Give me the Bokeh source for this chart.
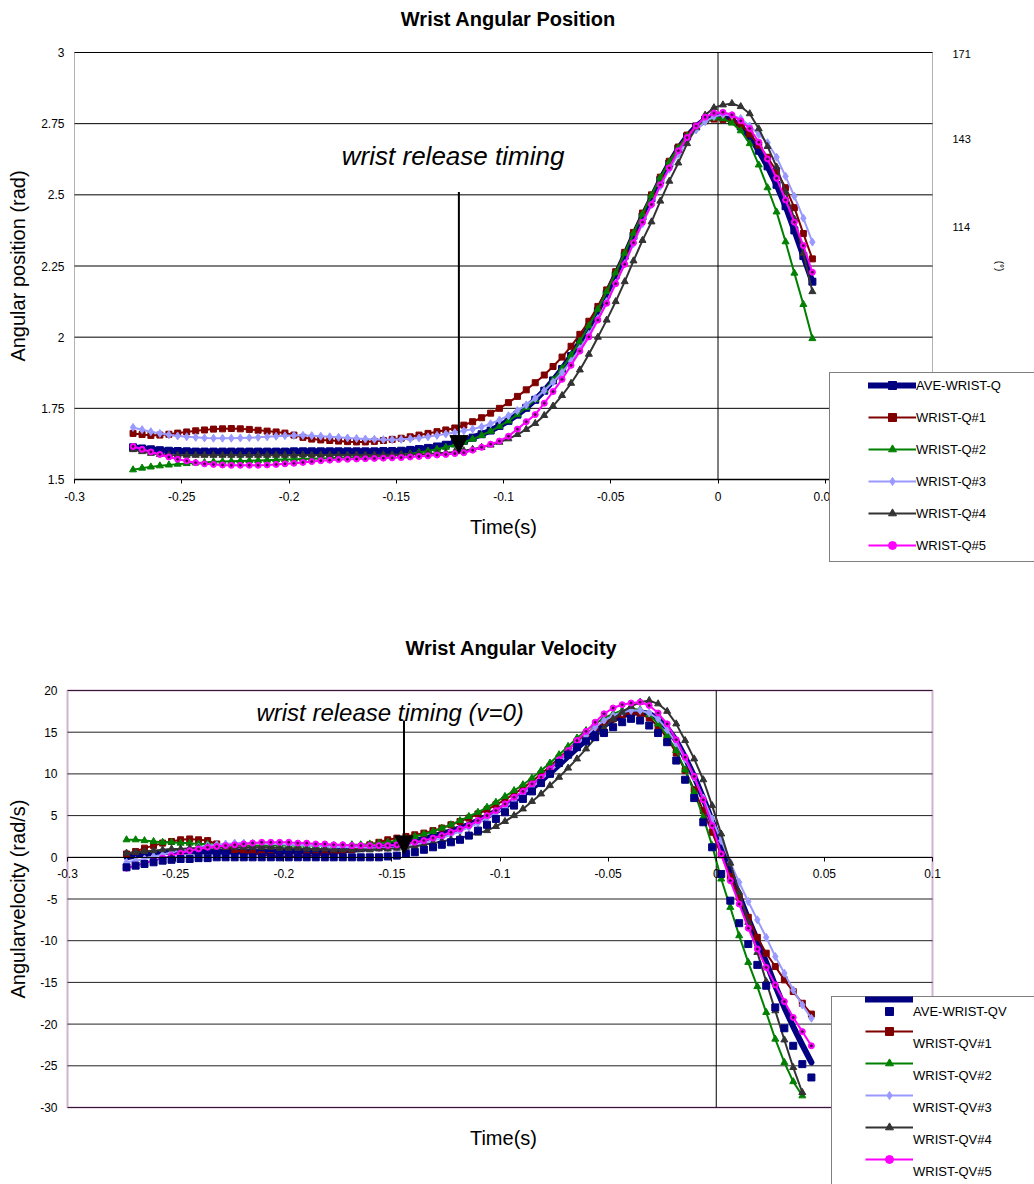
import numpy as np
from bokeh.plotting import figure
from bokeh.layouts import column
from bokeh.models import (Range1d, LinearAxis, FixedTicker, CustomJSTickFormatter,
                          Label, Legend, LegendItem, Arrow, NormalHead, BoxAnnotation)
from bokeh.embed import file_html
from bokeh.resources import INLINE

FONT = "Liberation Sans"

# ---------------- data ----------------
time_s = [-0.2727, -0.2685, -0.2644, -0.2602, -0.2560, -0.2519, -0.2477, -0.2435, -0.2394, -0.2352,
          -0.2310, -0.2269, -0.2227, -0.2185, -0.2144, -0.2102, -0.2060, -0.2019, -0.1977, -0.1935,
          -0.1894, -0.1852, -0.1810, -0.1769, -0.1727, -0.1685, -0.1644, -0.1602, -0.1560, -0.1519,
          -0.1477, -0.1435, -0.1394, -0.1352, -0.1310, -0.1269, -0.1227, -0.1185, -0.1144, -0.1102,
          -0.1060, -0.1019, -0.0977, -0.0935, -0.0894, -0.0852, -0.0810, -0.0769, -0.0727, -0.0685,
          -0.0644, -0.0602, -0.0560, -0.0519, -0.0477, -0.0435, -0.0394, -0.0352, -0.0310, -0.0269,
          -0.0227, -0.0185, -0.0144, -0.0102, -0.0060, -0.0019, 0.0023, 0.0065, 0.0106, 0.0148,
          0.0190, 0.0231, 0.0273, 0.0315, 0.0356, 0.0398, 0.0440]

# angular position (rad)
q_ave = [1.613, 1.609, 1.606, 1.603, 1.601, 1.600, 1.599, 1.598, 1.598, 1.598,
         1.598, 1.598, 1.598, 1.598, 1.598, 1.598, 1.598, 1.598, 1.599, 1.599,
         1.599, 1.599, 1.599, 1.599, 1.599, 1.599, 1.599, 1.599, 1.600, 1.600,
         1.601, 1.604, 1.607, 1.611, 1.616, 1.622, 1.628, 1.636, 1.647, 1.659,
         1.672, 1.688, 1.706, 1.728, 1.752, 1.780, 1.812, 1.848, 1.888, 1.934,
         1.982, 2.034, 2.092, 2.152, 2.218, 2.286, 2.356, 2.424, 2.488, 2.552,
         2.610, 2.662, 2.705, 2.740, 2.764, 2.775, 2.774, 2.762, 2.740, 2.705,
         2.655, 2.600, 2.535, 2.460, 2.375, 2.285, 2.195]
q_1 = [1.662, 1.658, 1.655, 1.656, 1.659, 1.663, 1.667, 1.671, 1.674, 1.677,
       1.678, 1.679, 1.678, 1.676, 1.673, 1.670, 1.667, 1.663, 1.656, 1.648,
       1.642, 1.639, 1.637, 1.635, 1.633, 1.632, 1.632, 1.634, 1.637, 1.641,
       1.645, 1.650, 1.656, 1.662, 1.668, 1.674, 1.681, 1.691, 1.703, 1.717,
       1.733, 1.750, 1.770, 1.792, 1.815, 1.840, 1.867, 1.897, 1.930, 1.968,
       2.010, 2.056, 2.108, 2.166, 2.230, 2.298, 2.368, 2.436, 2.500, 2.562,
       2.618, 2.668, 2.710, 2.741, 2.760, 2.766, 2.765, 2.758, 2.746, 2.714,
       2.675, 2.632, 2.583, 2.525, 2.455, 2.364, 2.275]
q_2 = [1.534, 1.540, 1.544, 1.548, 1.551, 1.554, 1.556, 1.558, 1.560, 1.562,
       1.563, 1.564, 1.565, 1.566, 1.567, 1.568, 1.569, 1.570, 1.571, 1.572,
       1.573, 1.574, 1.575, 1.576, 1.577, 1.578, 1.579, 1.580, 1.582, 1.584,
       1.587, 1.590, 1.595, 1.600, 1.606, 1.613, 1.621, 1.631, 1.642, 1.655,
       1.670, 1.687, 1.706, 1.728, 1.753, 1.781, 1.813, 1.849, 1.890, 1.936,
       1.986, 2.040, 2.098, 2.160, 2.226, 2.295, 2.365, 2.432, 2.498, 2.560,
       2.615, 2.665, 2.706, 2.738, 2.760, 2.770, 2.768, 2.752, 2.725, 2.680,
       2.605, 2.525, 2.440, 2.335, 2.225, 2.115, 1.995]
q_3 = [1.683, 1.675, 1.668, 1.662, 1.657, 1.653, 1.650, 1.648, 1.646, 1.645,
       1.645, 1.645, 1.646, 1.647, 1.648, 1.650, 1.652, 1.654, 1.655, 1.655,
       1.654, 1.652, 1.650, 1.648, 1.646, 1.644, 1.642, 1.641, 1.640, 1.640,
       1.641, 1.643, 1.646, 1.650, 1.655, 1.660, 1.665, 1.671, 1.677, 1.685,
       1.696, 1.709, 1.724, 1.742, 1.762, 1.785, 1.812, 1.842, 1.876, 1.915,
       1.960, 2.010, 2.065, 2.125, 2.190, 2.258, 2.328, 2.398, 2.465, 2.530,
       2.590, 2.643, 2.690, 2.728, 2.757, 2.775, 2.782, 2.779, 2.768, 2.742,
       2.712, 2.683, 2.632, 2.565, 2.495, 2.418, 2.334]
q_4 = [1.605, 1.598, 1.592, 1.588, 1.586, 1.585, 1.585, 1.585, 1.585, 1.585,
       1.585, 1.585, 1.585, 1.585, 1.585, 1.585, 1.585, 1.585, 1.585, 1.586,
       1.586, 1.586, 1.586, 1.586, 1.586, 1.586, 1.586, 1.586, 1.587, 1.587,
       1.587, 1.588, 1.589, 1.590, 1.592, 1.594, 1.597, 1.601, 1.606, 1.613,
       1.621, 1.631, 1.643, 1.658, 1.676, 1.697, 1.725, 1.758, 1.795, 1.838,
       1.885, 1.940, 2.000, 2.060, 2.125, 2.195, 2.268, 2.340, 2.405, 2.478,
       2.548, 2.612, 2.680, 2.738, 2.780, 2.806, 2.816, 2.821, 2.810, 2.785,
       2.732, 2.670, 2.598, 2.510, 2.415, 2.295, 2.160]
q_5 = [1.616, 1.606, 1.597, 1.588, 1.579, 1.571, 1.565, 1.559, 1.555, 1.553,
       1.551, 1.550, 1.550, 1.550, 1.550, 1.551, 1.553, 1.555, 1.557, 1.560,
       1.563, 1.566, 1.568, 1.570, 1.571, 1.572, 1.573, 1.574, 1.575, 1.576,
       1.577, 1.579, 1.581, 1.583, 1.586, 1.588, 1.591, 1.594, 1.603, 1.613,
       1.624, 1.635, 1.652, 1.677, 1.703, 1.728, 1.768, 1.809, 1.852, 1.901,
       1.951, 2.001, 2.060, 2.119, 2.188, 2.256, 2.332, 2.404, 2.466, 2.535,
       2.595, 2.655, 2.701, 2.742, 2.773, 2.787, 2.790, 2.781, 2.760, 2.733,
       2.685, 2.626, 2.558, 2.482, 2.404, 2.322, 2.228]

NAN = float("nan")
# angular velocity (rad/s)
qv_ave_line = [0.0, 0.2, 0.4, 0.5, 0.6, 0.7, 0.7, 0.7, 0.7, 0.7,
               0.7, 0.7, 0.7, 0.7, 0.7, 0.7, 0.7, 0.7, 0.7, 0.7,
               0.7, 0.7, 0.7, 0.7, 0.8, 0.9, 1.0, 1.1, 1.2, 1.4,
               1.6, 1.8, 2.0, 2.2, 2.5, 2.8, 3.1, 3.5, 3.9, 4.4,
               4.9, 5.5, 6.1, 6.8, 7.5, 8.3, 9.2, 10.1, 11.1, 12.1,
               13.1, 14.1, 15.0, 15.8, 16.5, 17.0, 17.3, 17.4, 17.2, 16.6,
               15.5, 14.0, 12.0, 9.7, 7.1, 4.3, 1.3, -1.7, -4.6, -7.4,
               -10.0, -12.6, -15.4, -18.0, -20.3, -22.5, -24.6]
qv_ave_pts = [-1.2, -1.0, -0.8, -0.6, -0.4, -0.3, -0.2, -0.2, -0.1, -0.1,
              0.0, 0.0, 0.0, 0.0, 0.0, 0.0, 0.0, 0.0, 0.0, 0.0,
              0.0, 0.0, 0.0, 0.0, 0.0, 0.0, 0.0, 0.0, 0.0, 0.1,
              0.2, 0.4, 0.6, 0.9, 1.2, 1.5, 1.8, 2.1, 2.6, 3.2,
              3.9, 4.6, 5.4, 6.2, 7.0, 7.9, 8.9, 10.0, 11.3, 12.3,
              13.2, 13.9, 14.4, 14.9, 15.6, 16.2, 16.6, 16.4, 15.8, 14.9,
              13.8, 11.6, 9.3, 7.1, 4.2, 1.2, -2.0, -5.2, -7.9, -10.4,
              -12.9, -15.4, -18.0, -20.5, -22.6, -24.8, -26.4]
qv_1 = [0.4, 0.7, 1.1, 1.4, 1.7, 1.9, 2.1, 2.2, 2.1, 2.0,
        1.6, 1.3, 0.9, 0.6, 0.5, 0.3, 0.2, 0.1, 0.1, 0.1,
        0.2, 0.2, 0.3, 0.4, 0.6, 0.9, 1.2, 1.5, 1.8, 2.1,
        2.3, 2.5, 2.7, 2.9, 3.2, 3.5, 3.9, 4.3, 4.7, 5.2,
        5.7, 6.3, 6.9, 7.6, 8.3, 9.1, 10.0, 10.9, 11.9, 12.9,
        13.9, 14.8, 15.6, 16.2, 16.6, 17.1, 17.3, 17.2, 16.7, 15.7,
        14.3, 12.5, 10.4, 8.1, 5.6, 3.0, 0.3, -2.3, -4.8, -7.2,
        -9.6, -11.5, -13.1, -14.7, -16.1, -17.5, -18.8]
qv_2 = [2.1, 2.1, 2.0, 1.9, 1.8, 1.8, 1.7, 1.7, 1.6, 1.6,
        1.5, 1.5, 1.5, 1.4, 1.4, 1.4, 1.4, 1.4, 1.4, 1.4,
        1.4, 1.4, 1.4, 1.4, 1.4, 1.5, 1.5, 1.6, 1.7, 1.8,
        2.0, 2.2, 2.5, 2.8, 3.1, 3.5, 3.9, 4.4, 4.9, 5.4,
        6.0, 6.6, 7.3, 8.0, 8.7, 9.5, 10.4, 11.3, 12.3, 13.3,
        14.3, 15.2, 16.0, 16.7, 17.2, 17.6, 17.8, 17.7, 17.1, 16.0,
        14.6, 12.8, 10.5, 7.8, 4.8, 1.4, -2.6, -6.0, -9.4, -12.6,
        -15.5, -18.6, -21.8, -24.6, -26.9, -28.6, NAN]
qv_3 = [-0.6, -0.4, -0.2, 0.1, 0.3, 0.6, 0.8, 1.0, 1.2, 1.4,
        1.5, 1.6, 1.7, 1.7, 1.7, 1.7, 1.6, 1.6, 1.5, 1.5,
        1.4, 1.4, 1.3, 1.3, 1.2, 1.2, 1.2, 1.1, 1.1, 1.1,
        1.2, 1.3, 1.5, 1.7, 2.0, 2.3, 2.7, 3.1, 3.6, 4.1,
        4.7, 5.3, 6.0, 6.8, 7.6, 8.4, 9.3, 10.3, 11.3, 12.4,
        13.5, 14.6, 15.6, 16.4, 17.0, 17.4, 17.6, 17.6, 17.3, 16.6,
        15.3, 13.7, 11.8, 9.6, 7.1, 4.6, 2.0, -0.6, -3.0, -5.3,
        -7.5, -9.6, -11.9, -13.9, -15.9, -17.7, -19.3]
qv_4 = [0.5, 0.6, 0.7, 0.8, 0.9, 1.0, 1.0, 1.1, 1.1, 1.2,
        1.2, 1.2, 1.2, 1.2, 1.2, 1.2, 1.2, 1.1, 1.1, 1.1,
        1.0, 1.0, 1.0, 0.9, 0.9, 0.9, 0.9, 0.9, 1.0, 1.0,
        1.1, 1.2, 1.3, 1.5, 1.7, 1.9, 2.1, 2.3, 2.6, 2.9,
        3.2, 3.7, 4.3, 5.0, 5.8, 6.7, 7.6, 8.6, 9.6, 10.7,
        11.8, 13.0, 14.3, 15.5, 16.6, 17.4, 18.1, 18.6, 18.8, 18.4,
        17.5, 16.0, 14.0, 11.8, 9.3, 6.2, 2.8, -0.7, -4.2, -7.8,
        -11.4, -14.9, -18.4, -21.9, -25.2, -28.2, NAN]
qv_5 = [-1.3, -1.0, -0.7, -0.4, -0.1, 0.2, 0.5, 0.8, 1.0, 1.2,
        1.3, 1.4, 1.5, 1.6, 1.7, 1.8, 1.8, 1.8, 1.8, 1.7,
        1.7, 1.6, 1.6, 1.5, 1.5, 1.4, 1.4, 1.4, 1.4, 1.4,
        1.5, 1.6, 1.8, 2.0, 2.3, 2.6, 3.0, 3.4, 3.8, 4.4,
        5.0, 5.6, 6.4, 7.2, 7.9, 8.8, 9.6, 10.6, 11.7, 12.8,
        14.0, 15.1, 16.2, 17.2, 17.9, 18.3, 18.5, 18.6, 18.2, 17.3,
        16.0, 14.1, 12.0, 9.7, 6.9, 3.8, 0.4, -2.8, -5.6, -8.5,
        -11.0, -13.2, -15.3, -17.3, -19.2, -20.9, -22.6]

x_ticks = [-0.3, -0.25, -0.2, -0.15, -0.1, -0.05, 0.0, 0.05, 0.1]
q_ticks = [1.5, 1.75, 2.0, 2.25, 2.5, 2.75, 3.0]
deg_ticks = [114, 143, 171]
qv_ticks = [-30, -25, -20, -15, -10, -5, 0, 5, 10, 15, 20]

q_names = ["AVE-WRIST-Q", "WRIST-Q#1", "WRIST-Q#2", "WRIST-Q#3", "WRIST-Q#4", "WRIST-Q#5"]
qv_names = ["AVE-WRIST-QV", "WRIST-QV#1", "WRIST-QV#2", "WRIST-QV#3", "WRIST-QV#4", "WRIST-QV#5"]

# annotation anchors (data units)
release_t_pos = -0.1208
release_q = 1.591
release_t_vel = -0.1444
release_v = 0.4

# ---------------- layout (pixels) ----------------
W = 1034
H1, H2 = 580, 604
X_LIM = (-0.3, 0.1)
Q_LIM = (1.5, 3.0)
QV_LIM = (-30.0, 20.0)
# plot area corners in canvas pixels: left, right, top, bottom
A1 = (74, 932, 52, 479)
A2 = (67, 932, 110, 527)
DEG_TOP, DEG_PX = 171.5, 3.035


def full_range(lim, a0, a1, total, flip=False):
    lo, hi = lim
    per = (hi - lo) / (a1 - a0)
    if not flip:
        return Range1d(lo - a0 * per, hi + (total - a1) * per)
    return Range1d(lo - (total - a1) * per, hi + a0 * per)


# ---------------- styles ----------------
NAVY = "#000080"
RED = "#800000"
GREEN = "#008000"
LBLUE = "#9999FF"
GRAY = "#333333"
MAGENTA = "#FF00FF"
styles = [(RED, "square", 6), (GREEN, "triangle", 7), (LBLUE, "diamond", 8),
          (GRAY, "triangle", 7), (MAGENTA, "circle", 6)]

JS_FMT = """
if (Math.abs(tick) < 1e-9) { return "0"; }
return String(parseFloat(tick.toFixed(2)));
"""


def style_axis(ax, ticks, label, label_standoff, axis_label_standoff, size="12px"):
    ax.ticker = FixedTicker(ticks=ticks)
    ax.formatter = CustomJSTickFormatter(code=JS_FMT)
    ax.axis_label = label
    ax.axis_label_text_font = FONT
    ax.axis_label_text_font_size = "20px"
    ax.axis_label_text_font_style = "normal"
    ax.axis_label_text_color = "black"
    ax.axis_label_standoff = axis_label_standoff
    ax.major_label_text_font = FONT
    ax.major_label_text_font_size = size
    ax.major_label_text_color = "black"
    ax.major_label_standoff = label_standoff
    ax.minor_tick_line_color = None


def make_fig(height, area, ylim):
    p = figure(width=W, height=height, title=None,
               x_range=full_range(X_LIM, area[0], area[1], W),
               y_range=full_range(ylim, area[2], area[3], height, flip=True),
               output_backend="svg", toolbar_location=None,
               min_border_left=0, min_border_right=0, min_border_top=0, min_border_bottom=0)
    p.outline_line_color = None
    p.xgrid.visible = False
    p.ygrid.visible = False
    return p


def text_label(p, x, y, text, size, style="normal", align="center"):
    p.add_layout(Label(x=x, y=y, text=text, text_font=FONT, text_font_size=size,
                       text_font_style=style, text_align=align, text_baseline="middle",
                       text_color="black"))


def legend(items, loc, **kw):
    opts = dict(glyph_width=48, glyph_height=20, label_height=20, spacing=12, padding=0,
                label_standoff=0, label_text_font=FONT, label_text_font_size="13px",
                label_text_color="black", border_line_alpha=0, background_fill_alpha=0)
    opts.update(kw)
    return Legend(items=items, location=loc, **opts)


def legend_box(p, dummy, loc, w, h):
    return Legend(items=[LegendItem(label=" ", renderers=[dummy])], location=loc,
                  glyph_width=w, glyph_height=h, padding=1, label_standoff=0,
                  label_text_font_size="1px", border_line_color="black", border_line_width=1,
                  background_fill_color="white", background_fill_alpha=1.0)


# ================= top chart =================
p1 = make_fig(H1, A1, Q_LIM)
p1.segment(x0=[X_LIM[0]] * len(q_ticks), x1=[X_LIM[1]] * len(q_ticks), y0=q_ticks, y1=q_ticks,
           line_color="black", line_width=1)
p1.segment(x0=[0.0], x1=[0.0], y0=[Q_LIM[0]], y1=[Q_LIM[1]], line_color="black", line_width=1)

xa1 = p1.xaxis[0]
style_axis(xa1, x_ticks, "", 8, 0)
xa1.fixed_location = Q_LIM[0]
xa1.bounds = X_LIM
xa1.axis_line_color = "black"
xa1.axis_line_width = 1.5
xa1.major_tick_out = 4
xa1.major_tick_in = 0

ya1 = p1.yaxis[0]
style_axis(ya1, q_ticks, "Angular position (rad)", 10, 9)
ya1.fixed_location = X_LIM[0]
ya1.bounds = Q_LIM
ya1.axis_line_color = None
ya1.major_tick_line_color = None
ya1.major_tick_out = 0
ya1.major_tick_in = 0

p1.extra_y_ranges = {"deg": Range1d(DEG_TOP - (H1 - A1[2]) / DEG_PX, DEG_TOP + A1[2] / DEG_PX)}
deg_axis = LinearAxis(y_range_name="deg")
style_axis(deg_axis, deg_ticks, "(°)", 20, 20, size="11px")
deg_axis.fixed_location = X_LIM[1]
deg_axis.bounds = (DEG_TOP - (A1[3] - A1[2]) / DEG_PX, DEG_TOP)
deg_axis.axis_label_text_font_size = "10px"
deg_axis.axis_line_color = None
deg_axis.major_tick_line_color = None
deg_axis.major_tick_out = 0
deg_axis.major_tick_in = 0
p1.add_layout(deg_axis, "right")

l_ave = p1.line(time_s, q_ave, color=NAVY, line_width=6, line_cap="round", line_join="round")
s_ave = p1.scatter(time_s, q_ave, marker="square", size=7, color=NAVY)
items1 = [LegendItem(label=q_names[0], renderers=[l_ave, s_ave])]
for name, ys, (col, mk, sz) in zip(q_names[1:], [q_1, q_2, q_3, q_4, q_5], styles):
    ln = p1.line(time_s, ys, color=col, line_width=2)
    sc = p1.scatter(time_s, ys, marker=mk, size=sz, color=col)
    items1.append(LegendItem(label=name, renderers=[ln, sc]))
p1.scatter(time_s, q_5, marker="circle", size=2, color="#400040")

p1.add_layout(BoxAnnotation(left=X_LIM[0], right=X_LIM[1], bottom=Q_LIM[0], top=Q_LIM[1],
                            fill_alpha=0, line_color="black", line_width=1))

text_label(p1, -0.0977, 3.1194, "Wrist Angular Position", "20px", "bold")
text_label(p1, -0.1, 1.3314, "Time(s)", "20px")
text_label(p1, release_t_pos - 0.0027, 2.638, "wrist release timing", "26px", "italic")
p1.add_layout(Arrow(end=NormalHead(size=18, fill_color="black", line_color="black"),
                    x_start=release_t_pos, y_start=2.51, x_end=release_t_pos, y_end=release_q,
                    line_color="black", line_width=2))

dummy1 = p1.scatter([0.0], [0.0], marker="square", size=1, alpha=0)
p1.add_layout(legend_box(p1, dummy1, (829, H1 - 562), 240, 186))
p1.add_layout(legend(items1, (868, H1 - 555)))

# ================= bottom chart =================
p2 = make_fig(H2, A2, QV_LIM)
p2.segment(x0=[X_LIM[0]] * len(qv_ticks), x1=[X_LIM[1]] * len(qv_ticks), y0=qv_ticks, y1=qv_ticks,
           line_color="#222222", line_width=1)
p2.segment(x0=[0.0], x1=[0.0], y0=[QV_LIM[0]], y1=[QV_LIM[1]], line_color="black", line_width=1)

xa2 = p2.xaxis[0]
style_axis(xa2, x_ticks, "", 8, 0)
xa2.fixed_location = 0
xa2.bounds = X_LIM
xa2.axis_line_color = "black"
xa2.axis_line_width = 1
xa2.major_tick_out = 4
xa2.major_tick_in = 0

ya2 = p2.yaxis[0]
style_axis(ya2, qv_ticks, "Angularvelocity (rad/s)", 10, 8)
ya2.fixed_location = X_LIM[0]
ya2.bounds = QV_LIM
ya2.axis_line_color = None
ya2.major_tick_line_color = None
ya2.major_tick_out = 0
ya2.major_tick_in = 0

l2_ave = p2.line(time_s, qv_ave_line, color=NAVY, line_width=6, line_cap="round", line_join="round")
glyph_items2 = [LegendItem(label=" ", renderers=[l2_ave])]
for ys, (col, mk, sz) in zip([qv_1, qv_2, qv_3, qv_4, qv_5], styles):
    ys = np.array(ys, dtype=float)
    ln = p2.line(time_s, ys, color=col, line_width=2)
    sc = p2.scatter(time_s, ys, marker=mk, size=sz, color=col)
    glyph_items2.append(LegendItem(label=" ", renderers=[ln, sc]))
p2.scatter(time_s, qv_5, marker="circle", size=2, color="#400040")
s2_ave = p2.scatter(time_s, qv_ave_pts, marker="square", size=7, color=NAVY)

p2.add_layout(BoxAnnotation(left=X_LIM[0], right=X_LIM[1], bottom=QV_LIM[0], top=QV_LIM[1],
                            fill_alpha=0, line_color="#660066", line_width=2))

text_label(p2, -0.0947, 25.04, "Wrist Angular Velocity", "20px", "bold")
text_label(p2, -0.0984, -33.6, "Time(s)", "20px")
text_label(p2, -0.1508, 17.36, "wrist release timing (v=0)", "24px", "italic")
p2.add_layout(Arrow(end=NormalHead(size=18, fill_color="black", line_color="black"),
                    x_start=release_t_vel, y_start=16.4, x_end=release_t_vel, y_end=release_v,
                    line_color="black", line_width=2))

dummy2 = p2.scatter([0.0], [100.0], marker="square", size=1, alpha=0)
p2.add_layout(legend_box(p2, dummy2, (831, -40), 240, 224))
# glyph column (lines + markers), the average's square sits under its line, labels sit lower
p2.add_layout(legend(glyph_items2, (865, H2 - 589)))
p2.add_layout(legend([LegendItem(label=" ", renderers=[s2_ave])], (865, H2 - 441)))
p2.add_layout(legend([LegendItem(label=n, renderers=[dummy2]) for n in qv_names],
                     (865, H2 - 601)))

layout = column(p1, p2, spacing=0)
open("out.html", "w").write(file_html(layout, INLINE))
